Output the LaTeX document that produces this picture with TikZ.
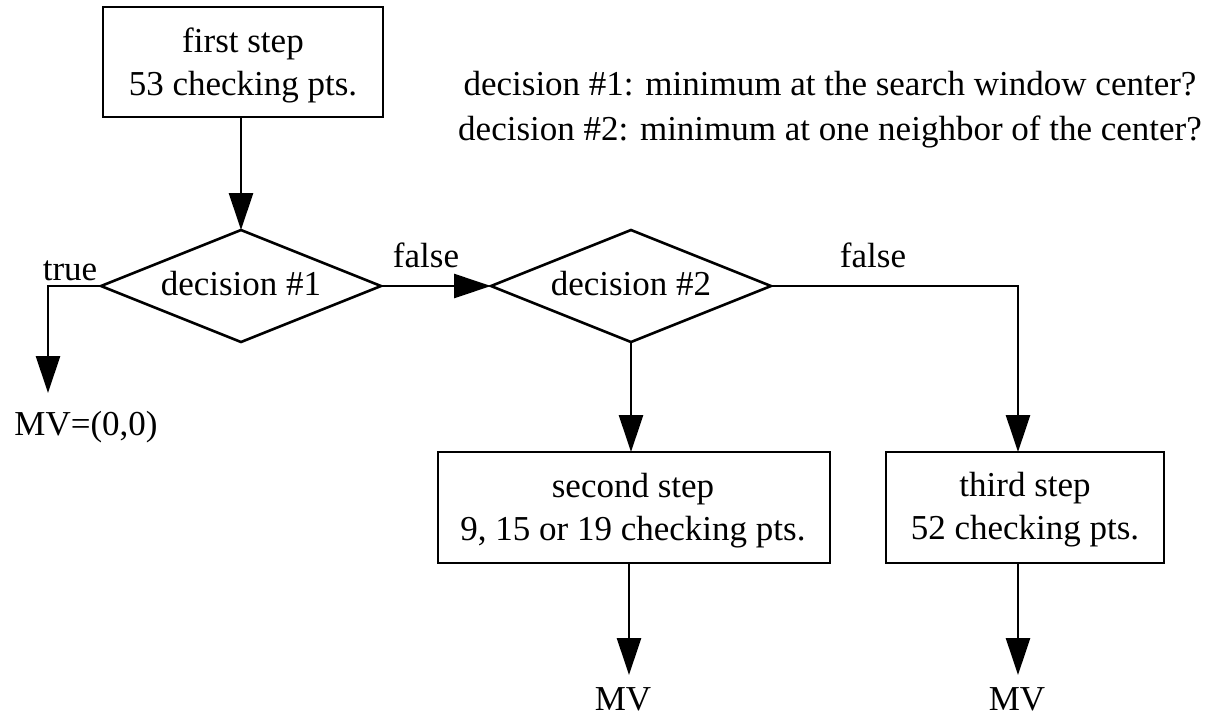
\documentclass[tikz,border=0pt]{standalone}
\usepackage{fontspec}
\setmainfont{Liberation Serif}
\usetikzlibrary{shapes.geometric,arrows.meta}
\begin{document}
\begin{tikzpicture}[x=1pt,y=-1pt,
  every node/.style={font=\fontsize{35}{43}\selectfont, inner sep=0pt, outer sep=0pt},
  line/.style={line width=2.6pt, line join=miter},
  arr/.style={line, -{Triangle[length=37pt,width=24pt]}},
  stepbox/.style={draw, line width=2.6pt, rectangle, minimum height=111pt},
  decbox/.style={draw, line width=2.6pt, diamond, aspect=2.5, minimum width=280pt,
                 minimum height=112pt, text height=24pt, text depth=6pt},
  lbl/.style={anchor=base}
]
\useasboundingbox (0,0) rectangle (1207,716);

% boxes
\node[stepbox, minimum width=280pt, minimum height=110pt] (box1) at (243,62) {};
\node[align=center] (t1) at (243,65.3) {first step\\53 checking pts.};

\node[stepbox, minimum width=392pt] (box2) at (634,507.5) {};
\node[align=center] (t2) at (633,510.8) {second step\\9, 15 or 19 checking pts.};

\node[stepbox, minimum width=278pt] (box3) at (1025,507.5) {};
\node[align=center] (t3) at (1025,509.3) {third step\\52 checking pts.};

% decisions
\node[decbox] (d1) at (241,286) {decision \#1};
\node[decbox] (d2) at (631,286) {decision \#2};

% legend
\node[align=center, font=\fontsize{35}{45}\selectfont] (legend) at (830,109.3)
  {decision \#1: minimum at the search window center?\\decision \#2: minimum at one neighbor of the center?};

% labels
\node[lbl] (ltrue) at (70,280) {true};
\node[lbl] (lf1) at (426,267) {false};
\node[lbl] (lf2) at (873,267) {false};
\node[lbl] (mv0) at (86,435) {MV=(0,0)};
\node[lbl] (mv2) at (623,710) {MV};
\node[lbl] (mv3) at (1017,710) {MV};

\coordinate (tip0) at (48,393);
\coordinate (tip2) at (629,675);
\coordinate (tip3) at (1018,675);

% connectors
\draw[arr] (box1.south -| d1.north) -- (d1.north);
\draw[arr] (d1.west) -| (tip0);
\draw[arr] (d1.east) -- (d2.west);
\draw[arr] (d2.east) -| (tip3 |- box3.north);
\draw[arr] (d2.south) -- (d2.south |- box2.north);
\draw[arr] (tip2 |- box2.south) -- (tip2);
\draw[arr] (tip3 |- box3.south) -- (tip3);
\end{tikzpicture}
\end{document}
